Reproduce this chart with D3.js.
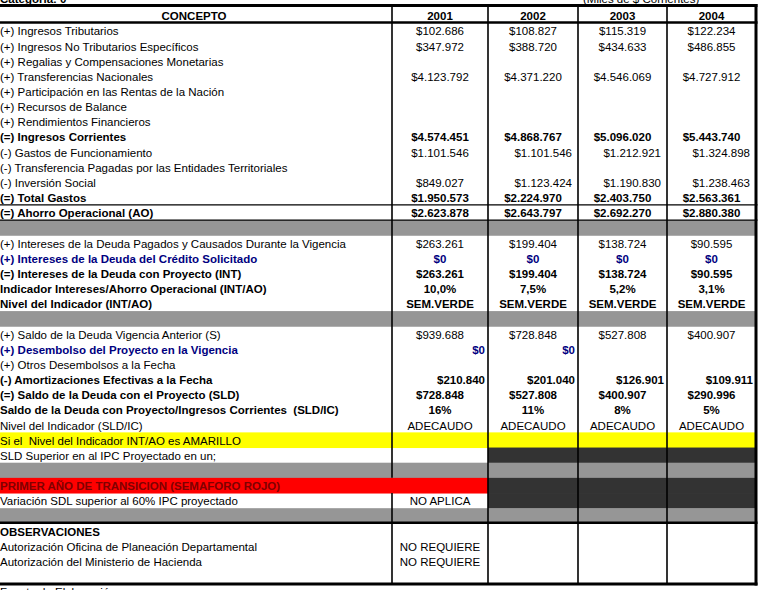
<!DOCTYPE html>
<html><head><meta charset="utf-8">
<script src="https://cdn.jsdelivr.net/npm/d3@7"></script>
<style>
body{margin:0;background:#fff;overflow:hidden}
svg{display:block}
text{font-family:"Liberation Sans",Arial,sans-serif;font-size:11.5px;white-space:pre}
</style>
</head><body>
<svg id="c" width="759" height="590"></svg>
<script>
// ---------------- DATA ----------------
const title = "Categoría: 0";
const unitsNote = "(Miles de $ Corrientes)";
const sourceNote = "Fuente de Elaboración";
const headerLabel = "CONCEPTO";
const years = ["2001", "2002", "2003", "2004"];

const concepts = [
  "(+) Ingresos Tributarios",
  "(+) Ingresos No Tributarios Específicos",
  "(+) Regalias y Compensaciones Monetarias",
  "(+) Transferencias Nacionales",
  "(+) Participación en las Rentas de la Nación",
  "(+) Recursos de Balance",
  "(+) Rendimientos Financieros",
  "(=) Ingresos Corrientes",
  "(-) Gastos de Funcionamiento",
  "(-) Transferencia Pagadas por las Entidades Territoriales",
  "(-) Inversión Social",
  "(=) Total Gastos",
  "(=) Ahorro Operacional (AO)",
  "",
  "(+) Intereses de la Deuda Pagados y Causados Durante la Vigencia",
  "(+) Intereses de la Deuda del Crédito Solicitado",
  "(=) Intereses de la Deuda con Proyecto (INT)",
  "Indicador Intereses/Ahorro Operacional (INT/AO)",
  "Nivel del Indicador (INT/AO)",
  "",
  "(+) Saldo de la Deuda Vigencia Anterior (S)",
  "(+) Desembolso del Proyecto en la Vigencia",
  "(+) Otros Desembolsos a la Fecha",
  "(-) Amortizaciones Efectivas a la Fecha",
  "(=) Saldo de la Deuda con el Proyecto (SLD)",
  "Saldo de la Deuda con Proyecto/Ingresos Corrientes  (SLD/IC)",
  "Nivel del Indicador (SLD/IC)",
  "Si el  Nivel del Indicador INT/AO es AMARILLO",
  "SLD Superior en al IPC Proyectado en un;",
  "",
  "PRIMER AÑO DE TRANSICION (SEMAFORO ROJO)",
  "Variación SDL superior al 60% IPC proyectado",
  "",
  "OBSERVACIONES",
  "Autorización Oficina de Planeación Departamental",
  "Autorización del Ministerio de Hacienda",
  ""
];

// values in miles de $; percentages as percent numbers
const values2001 = [102686, 347972, null, 4123792, null, null, null, 4574451, 1101546, null, 849027, 1950573, 2623878, null,
  263261, 0, 263261, 10.0, "SEM.VERDE", null,
  939688, 0, null, 210840, 728848, 16, "ADECAUDO", null, null, null, null, "NO APLICA", null, null, "NO REQUIERE", "NO REQUIERE", null];
const values2002 = [108827, 388720, null, 4371220, null, null, null, 4868767, 1101546, null, 1123424, 2224970, 2643797, null,
  199404, 0, 199404, 7.5, "SEM.VERDE", null,
  728848, 0, null, 201040, 527808, 11, "ADECAUDO", null, null, null, null, null, null, null, null, null, null];
const values2003 = [115319, 434633, null, 4546069, null, null, null, 5096020, 1212921, null, 1190830, 2403750, 2692270, null,
  138724, 0, 138724, 5.2, "SEM.VERDE", null,
  527808, null, null, 126901, 400907, 8, "ADECAUDO", null, null, null, null, null, null, null, null, null, null];
const values2004 = [122234, 486855, null, 4727912, null, null, null, 5443740, 1324898, null, 1238463, 2563361, 2880380, null,
  90595, 0, 90595, 3.1, "SEM.VERDE", null,
  400907, null, null, 109911, 290996, 5, "ADECAUDO", null, null, null, null, null, null, null, null, null, null];
const valuesByYear = {"2001": values2001, "2002": values2002, "2003": values2003, "2004": values2004};

// ---------------- STYLE / LAYOUT ----------------
const percentDecimals = {17: 1, 25: 0};
const boldRows = new Set([7, 11, 12, 15, 16, 17, 18, 21, 23, 24, 25, 30, 33]);
const blueRows = new Set([15, 21]);
const darkRedTextRows = new Set([30]);
const greyRows = new Set([13, 19, 29, 32]);
const yellowRows = new Set([27]);
const redRows = new Set([30]);
const darkRightRows = new Set([28, 30, 31]);

const svg = d3.select("#c");
const nRows = concepts.length;
const y = d3.scaleLinear().domain([0, nRows]).range([23, 584]);
const colLeft = d3.scaleOrdinal().domain(years).range([392, 488, 578, 667]);
const colRight = d3.scaleOrdinal().domain(years).range([488, 578, 667, 756]);
const tableLeft = -4, tableRight = 756, headerTop = 5.5;

const loc = d3.formatLocale({decimal: ",", thousands: ".", grouping: [3], currency: ["$", ""]});
const money = loc.format("$,.0f");
function fmtVal(r, v) {
  if (typeof v === "string") return v;
  if (percentDecimals[r] !== undefined) return loc.format(",." + percentDecimals[r] + "f")(v) + "%";
  return money(v);
}
function align(r, yr) {
  if (r === 21 || r === 23) return {anchor: "end", x: colRight(yr) - 3};
  if ((r === 8 || r === 10) && yr !== "2001") return {anchor: "end", x: colRight(yr) - 6};
  return {anchor: "middle", x: (colLeft(yr) + colRight(yr)) / 2};
}
const rows = d3.range(nRows);
const rowH = y(1) - y(0);

// ---------- fills ----------
const fills = [];
rows.forEach(r => {
  if (greyRows.has(r)) fills.push({x0: tableLeft, x1: tableRight, r, c: "#969696"});
  if (yellowRows.has(r)) fills.push({x0: tableLeft, x1: tableRight, r, c: "#ffff00"});
  if (redRows.has(r)) fills.push({x0: tableLeft, x1: colRight("2001"), r, c: "#ff0000"});
  if (darkRightRows.has(r)) fills.push({x0: colLeft("2002"), x1: tableRight, r, c: "#333333"});
});
svg.append("g").selectAll("rect").data(fills).join("rect")
  .attr("x", d => d.x0).attr("width", d => d.x1 - d.x0)
  .attr("y", d => y(d.r)).attr("height", rowH + 0.5)
  .attr("fill", d => d.c);

// ---------- grid lines ----------
const g = svg.append("g").attr("stroke", "#000");
// vertical dividers
const vSegs = [];
years.forEach(yr => {
  const x = colLeft(yr);
  if (yr === "2001") {
    vSegs.push({x, y0: headerTop, y1: y(30)});
    vSegs.push({x, y0: y(31), y1: y(nRows)});
  } else vSegs.push({x, y0: headerTop, y1: y(nRows)});
});
g.selectAll("line.v").data(vSegs).join("line").attr("class", "v")
  .attr("x1", d => d.x).attr("x2", d => d.x).attr("y1", d => d.y0).attr("y2", d => d.y1)
  .attr("stroke-width", 1.6);
// horizontal lines
const hLines = [
  {yy: headerTop, w: 3},
  {yy: y(0) - 0.5, w: 2.5},
  {yy: y(12), w: 1.2},
  {yy: y(13), w: 1.2},
  {yy: y(33) - 0.5, w: 2.5},
  {yy: y(nRows), w: 3}
];
g.selectAll("line.h").data(hLines).join("line").attr("class", "h")
  .attr("x1", tableLeft).attr("x2", tableRight + 1.5).attr("y1", d => d.yy).attr("y2", d => d.yy)
  .attr("stroke-width", d => d.w);
g.append("line").attr("x1", tableRight).attr("x2", tableRight)
  .attr("y1", headerTop - 1.5).attr("y2", y(nRows) + 1.5).attr("stroke-width", 3);

// ---------- header ----------
svg.append("text").attr("x", 0).attr("y", 3).attr("font-weight", "bold").text(title);
svg.append("text").attr("x", 583).attr("y", 2.5).text(unitsNote);
svg.append("text").attr("x", (tableLeft + colLeft("2001")) / 2).attr("y", 19.5)
  .attr("text-anchor", "middle").attr("font-weight", "bold").text(headerLabel);
svg.append("g").selectAll("text").data(years).join("text")
  .attr("x", d => (colLeft(d) + colRight(d)) / 2).attr("y", 19.5)
  .attr("text-anchor", "middle").attr("font-weight", "bold").text(d => d);

// ---------- concept column ----------
const baseOff = rowH - 2.8;
svg.append("g").selectAll("text").data(rows.filter(r => concepts[r] !== "")).join("text")
  .attr("x", 0).attr("y", r => y(r) + baseOff)
  .attr("font-weight", r => boldRows.has(r) ? "bold" : "normal")
  .attr("fill", r => blueRows.has(r) ? "#000080" : darkRedTextRows.has(r) ? "#800000" : "#000")
  .text(r => concepts[r]);

// ---------- value cells ----------
const cells = [];
years.forEach(yr => valuesByYear[yr].forEach((v, r) => { if (v !== null) cells.push({yr, r, v}); }));
const valueBold = new Set([7, 11, 12, 15, 16, 17, 18, 21, 23, 24, 25]);
svg.append("g").selectAll("text").data(cells).join("text")
  .attr("x", d => align(d.r, d.yr).x)
  .attr("text-anchor", d => align(d.r, d.yr).anchor)
  .attr("y", d => y(d.r) + baseOff)
  .attr("font-weight", d => valueBold.has(d.r) ? "bold" : "normal")
  .attr("fill", d => blueRows.has(d.r) ? "#000080" : "#000")
  .text(d => fmtVal(d.r, d.v));

// ---------- footer ----------
svg.append("text").attr("x", 0).attr("y", 596).text(sourceNote);
</script>
</body></html>
